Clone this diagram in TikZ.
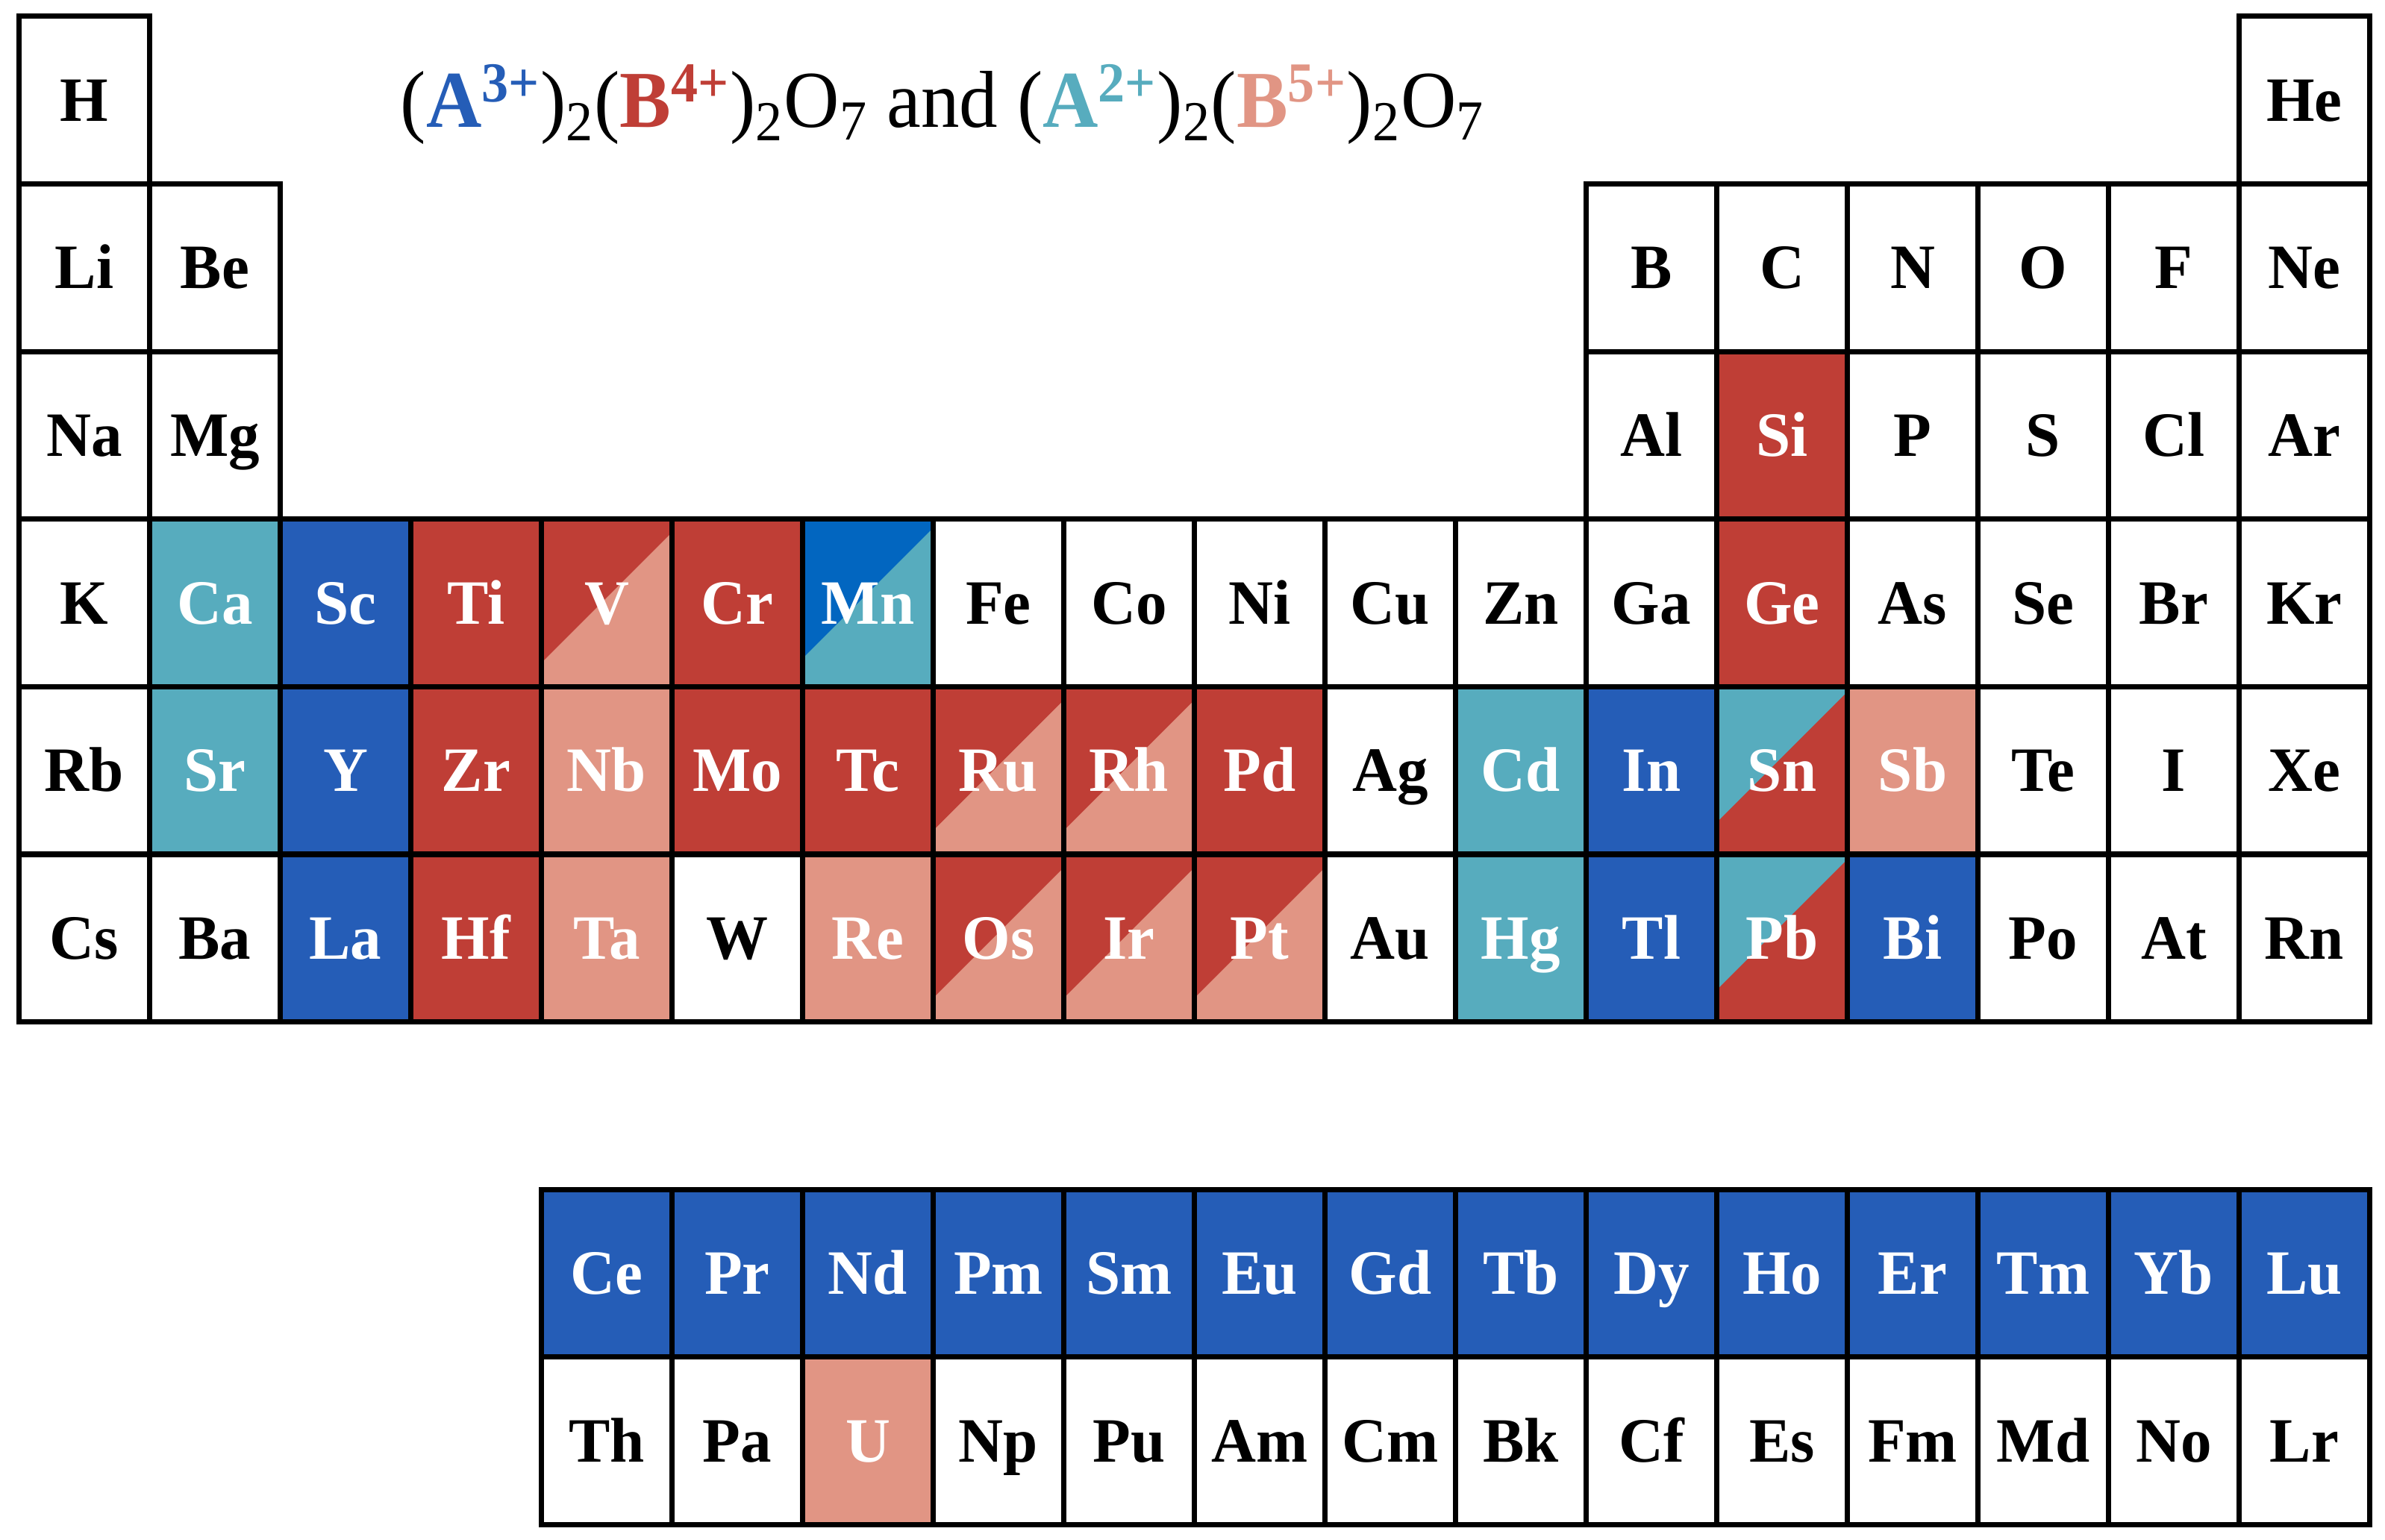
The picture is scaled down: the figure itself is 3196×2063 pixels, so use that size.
\documentclass[tikz,border=0pt]{standalone}
\usepackage{fontspec}
\setmainfont{Liberation Serif}
\usepackage{graphicx}
\definecolor{cw}{HTML}{FFFFFF}
\definecolor{cA}{HTML}{255DB7}
\definecolor{cM}{HTML}{0266C0}
\definecolor{cR}{HTML}{BF3E36}
\definecolor{cS}{HTML}{E19584}
\definecolor{cT}{HTML}{57ACBE}
\def\elemlist{%
H/0/0/cw/cw/0/black, He/17/0/cw/cw/0/black,
Li/0/1/cw/cw/0/black, Be/1/1/cw/cw/0/black, B/12/1/cw/cw/0/black, C/13/1/cw/cw/0/black, N/14/1/cw/cw/0/black, O/15/1/cw/cw/0/black, F/16/1/cw/cw/0/black, Ne/17/1/cw/cw/0/black,
Na/0/2/cw/cw/0/black, Mg/1/2/cw/cw/0/black, Al/12/2/cw/cw/0/black, Si/13/2/cR/cR/0/white, P/14/2/cw/cw/0/black, S/15/2/cw/cw/0/black, Cl/16/2/cw/cw/0/black, Ar/17/2/cw/cw/0/black,
K/0/3/cw/cw/0/black, Ca/1/3/cT/cT/0/white, Sc/2/3/cA/cA/0/white, Ti/3/3/cR/cR/0/white, V/4/3/cR/cS/32/white, Cr/5/3/cR/cR/0/white, Mn/6/3/cM/cT/38/white, Fe/7/3/cw/cw/0/black, Co/8/3/cw/cw/0/black, Ni/9/3/cw/cw/0/black, Cu/10/3/cw/cw/0/black, Zn/11/3/cw/cw/0/black, Ga/12/3/cw/cw/0/black, Ge/13/3/cR/cR/0/white, As/14/3/cw/cw/0/black, Se/15/3/cw/cw/0/black, Br/16/3/cw/cw/0/black, Kr/17/3/cw/cw/0/black,
Rb/0/4/cw/cw/0/black, Sr/1/4/cT/cT/0/white, Y/2/4/cA/cA/0/white, Zr/3/4/cR/cR/0/white, Nb/4/4/cS/cS/0/white, Mo/5/4/cR/cR/0/white, Tc/6/4/cR/cR/0/white, Ru/7/4/cR/cS/32/white, Rh/8/4/cR/cS/32/white, Pd/9/4/cR/cR/0/white, Ag/10/4/cw/cw/0/black, Cd/11/4/cT/cT/0/white, In/12/4/cA/cA/0/white, Sn/13/4/cT/cR/43/white, Sb/14/4/cS/cS/0/white, Te/15/4/cw/cw/0/black, I/16/4/cw/cw/0/black, Xe/17/4/cw/cw/0/black,
Cs/0/5/cw/cw/0/black, Ba/1/5/cw/cw/0/black, La/2/5/cA/cA/0/white, Hf/3/5/cR/cR/0/white, Ta/4/5/cS/cS/0/white, W/5/5/cw/cw/0/black, Re/6/5/cS/cS/0/white, Os/7/5/cR/cS/32/white, Ir/8/5/cR/cS/32/white, Pt/9/5/cR/cS/32/white, Au/10/5/cw/cw/0/black, Hg/11/5/cT/cT/0/white, Tl/12/5/cA/cA/0/white, Pb/13/5/cT/cR/43/white, Bi/14/5/cA/cA/0/white, Po/15/5/cw/cw/0/black, At/16/5/cw/cw/0/black, Rn/17/5/cw/cw/0/black,
Ce/4/7/cA/cA/0/white, Pr/5/7/cA/cA/0/white, Nd/6/7/cA/cA/0/white, Pm/7/7/cA/cA/0/white, Sm/8/7/cA/cA/0/white, Eu/9/7/cA/cA/0/white, Gd/10/7/cA/cA/0/white, Tb/11/7/cA/cA/0/white, Dy/12/7/cA/cA/0/white, Ho/13/7/cA/cA/0/white, Er/14/7/cA/cA/0/white, Tm/15/7/cA/cA/0/white, Yb/16/7/cA/cA/0/white, Lu/17/7/cA/cA/0/white,
Th/4/8/cw/cw/0/black, Pa/5/8/cw/cw/0/black, U/6/8/cS/cS/0/white, Np/7/8/cw/cw/0/black, Pu/8/8/cw/cw/0/black, Am/9/8/cw/cw/0/black, Cm/10/8/cw/cw/0/black, Bk/11/8/cw/cw/0/black, Cf/12/8/cw/cw/0/black, Es/13/8/cw/cw/0/black, Fm/14/8/cw/cw/0/black, Md/15/8/cw/cw/0/black, No/16/8/cw/cw/0/black, Lr/17/8/cw/cw/0/black}
\newcommand{\elemfont}{\fontsize{23.6}{28}\selectfont\bfseries}
\newcommand{\tall}[1]{\scalebox{1}[1.02]{#1}}
\newcommand{\titletall}[1]{\scalebox{1}[1.05]{#1}}
\begin{document}
\begin{tikzpicture}[x=0.01cm,y=-0.01cm,
  elem/.style={draw=black, line width=0.07cm, minimum width=1.75cm, minimum height=2.246cm,
    inner sep=0pt, outer sep=0pt, text height=0.558cm, text depth=0pt, font=\elemfont, align=center},
  titletext/.style={font=\fontsize{29.3}{34}\selectfont, anchor=base, inner sep=0pt}]
\useasboundingbox[fill=white] (0,0) rectangle (3196,2063);
% fills
\foreach \sym/\col/\row/\ua/\lb/\off/\tc in \elemlist {
  \pgfmathsetmacro{\xa}{25.5+175*\col}
  \pgfmathsetmacro{\xb}{\xa+175}
  \pgfmathsetmacro{\ya}{22+224.6*\row}
  \pgfmathsetmacro{\yb}{\ya+224.6}
  \pgfmathsetmacro{\yc}{\yb-\off}
  \pgfmathsetmacro{\yd}{\yb-\off-175}
  \fill[\lb] (\xa,\ya) rectangle (\xb,\yb);
  \fill[\ua] (\xa,\ya) -- (\xb,\ya) -- (\xb,\yd) -- (\xa,\yc) -- cycle;
}
% borders and symbols
\foreach \sym/\col/\row/\ua/\lb/\off/\tc in \elemlist {
  \pgfmathsetmacro{\xm}{25.5+175*\col+87.5}
  \pgfmathsetmacro{\ym}{22+224.6*\row+112.3}
  \node[elem, text=\tc] (\sym) at (\xm,\ym) {\tall{\sym}};
}
% title
\node[titletext] (title) at (1263,170) {\titletall{(\textcolor{cA}{\textbf{A}\textsuperscript{\textbf{3+}}})\textsubscript{2}(\textcolor{cR}{\textbf{B}\textsuperscript{\textbf{4+}}})\textsubscript{2}O\textsubscript{7} and (\textcolor{cT}{\textbf{A}\textsuperscript{\textbf{2+}}})\textsubscript{2}(\textcolor{cS}{\textbf{B}\textsuperscript{\textbf{5+}}})\textsubscript{2}O\textsubscript{7}}};
\end{tikzpicture}
\end{document}
